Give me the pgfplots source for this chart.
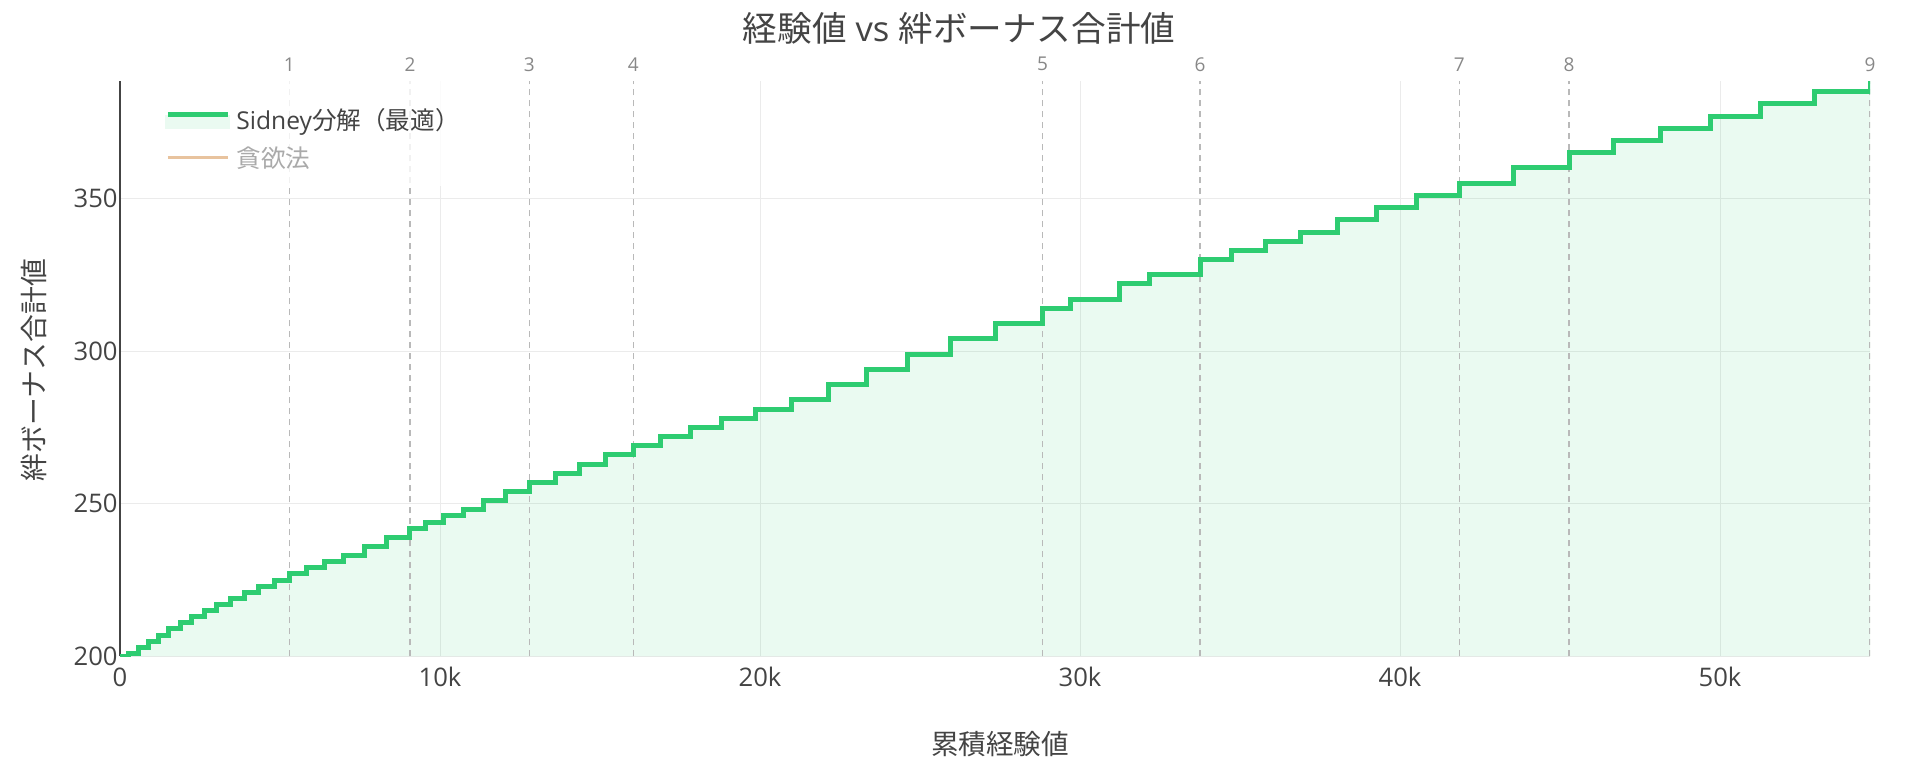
\documentclass[border=0pt]{standalone}
\usepackage{pgfplots}
\pgfplotsset{compat=1.18}
\usepackage{pgfplotstable}
\usepackage{fontspec}
\setmainfont{Open Sans}
\newfontfamily\cjk{Noto Sans CJK JP}
\definecolor{txt}{RGB}{68,68,68}
\definecolor{grn}{RGB}{46,204,113}
\definecolor{grnfill}{RGB}{234,250,241}
\definecolor{gridc}{RGB}{235,235,235}
\definecolor{dashc}{RGB}{185,185,185}
\definecolor{markc}{RGB}{136,136,136}
\definecolor{orng}{RGB}{232,195,158}
\definecolor{legg}{RGB}{170,170,170}

\pgfplotstableread{
x y
0 200
261 201
573 203
885 205
1197 207
1510 209
1875 211
2239 213
2636 215
3021 217
3438 219
3906 221
4343 223
4823 225
5290 227
5813 229
6386 231
6990 233
7635 236
8333 239
9062 242
9548 244
10104 246
10729 248
11353 251
12032 254
12790 257
13594 260
14354 263
15178 266
16041 269
16875 272
17833 275
18802 278
19844 281
20969 284
22136 289
23333 294
24614 299
25938 304
27344 309
28830 314
29708 317
31230 322
32167 325
33750 330
34739 333
35781 336
36875 339
38041 343
39272 347
40521 351
41850 355
43541 360
45281 365
46667 369
48146 373
49687 377
51271 381
52947 385
54688 388.5
}\sidney

\begin{document}
\begin{tikzpicture}
\useasboundingbox (-60pt,-51.8pt) rectangle (900pt,328.2pt);
\begin{axis}[
  at={(0pt,0pt)}, anchor=south west,
  scale only axis, width=875pt, height=287.7pt,
  xmin=0, xmax=54688, ymin=200, ymax=388.5,
  clip mode=individual,
  axis lines=left, axis line style={-},
  x axis line style={draw=gridc, line width=0.5pt},
  y axis line style={draw=txt, line width=1pt},
  xtick={0,10000,20000,30000,40000,50000},
  xticklabels={0,10k,20k,30k,40k,50k},
  scaled x ticks=false,
  ytick={200,250,300,350},
  major tick length=0pt,
  tick style={draw=none},
  grid=major, major grid style={draw=gridc, line width=0.5pt},
  tick label style={font=\fontsize{12.8}{15}\selectfont, text=txt},
  xticklabel style={anchor=north, inner sep=0pt, text height=9.73pt, yshift=-5.06pt},
  yticklabel style={anchor=east, inner sep=0pt, xshift=-1pt},
  /pgf/number format/assume math mode=true,
  legend style={at={(axis description cs:0,1)}, anchor=north west,
    xshift=17.5pt, yshift=1pt, draw=none, fill=white, fill opacity=0.8,
    text opacity=1, text=txt, inner xsep=5pt, inner ysep=6.15pt, row sep=5.6pt,
    font=\fontsize{12.3}{14.5}\selectfont,
    nodes={inner sep=0pt, text depth=3.1pt},
    cells={anchor=base west},
    /tikz/every odd column/.append style={column sep=3pt}},
]
\addplot[const plot, draw=none, fill=grn, fill opacity=0.1, forget plot] table {\sidney} \closedcycle;
\pgfplotsinvokeforeach{5290,9062,12790,16041,28830,33750,41850,45281,54688}{
  \addplot[dashc, dash pattern=on 3pt off 2.5pt, line width=0.7pt, forget plot] coordinates {(#1,200) (#1,388.5)};
}
\addplot[const plot, draw=grn, line width=2.5pt,
  legend image code/.code={
    \fill[grnfill, fill opacity=1] (0pt,1.2pt) rectangle (30pt,6pt);
    \draw[grn, line width=2.5pt] (0pt,7.2pt) -- (30pt,7.2pt);}
  ] table {\sidney};
\addlegendentry{\rule[-3.1pt]{0pt}{21.8pt}Sidney{\cjk 分解（最適）}}
\addlegendimage{legend image code/.code={\draw[orng, line width=1.5pt] (0pt,5.1pt) -- (30pt,5.1pt);}}
\addlegendentry{\rule[-3.1pt]{0pt}{13.7pt}\textcolor{legg}{\cjk 貪欲法}}

\tikzset{marklab/.style={font=\fontsize{9.5}{11}\selectfont, text=markc, anchor=center, yshift=8.35pt, inner sep=0pt}}
\node[marklab] at (axis cs:5290,388.5) {1};
\node[marklab] at (axis cs:9062,388.5) {2};
\node[marklab] at (axis cs:12790,388.5) {3};
\node[marklab] at (axis cs:16041,388.5) {4};
\node[marklab] at (axis cs:28830,388.5) {5};
\node[marklab] at (axis cs:33750,388.5) {6};
\node[marklab] at (axis cs:41850,388.5) {7};
\node[marklab] at (axis cs:45281,388.5) {8};
\node[marklab] at (axis cs:54688,388.5) {9};
\end{axis}
\node[font=\fontsize{17.3}{20}\selectfont, text=txt] at (419.5pt,314pt) {{\cjk 経験値} vs {\cjk 絆ボーナス合計値}};
\node[font=\cjk\fontsize{13.8}{16}\selectfont, text=txt] at (440pt,-44pt) {累積経験値};
\node[font=\cjk\fontsize{13.9}{16}\selectfont, text=txt, rotate=90] at (-43.2pt,143pt) {絆ボーナス合計値};
\end{tikzpicture}
\end{document}
